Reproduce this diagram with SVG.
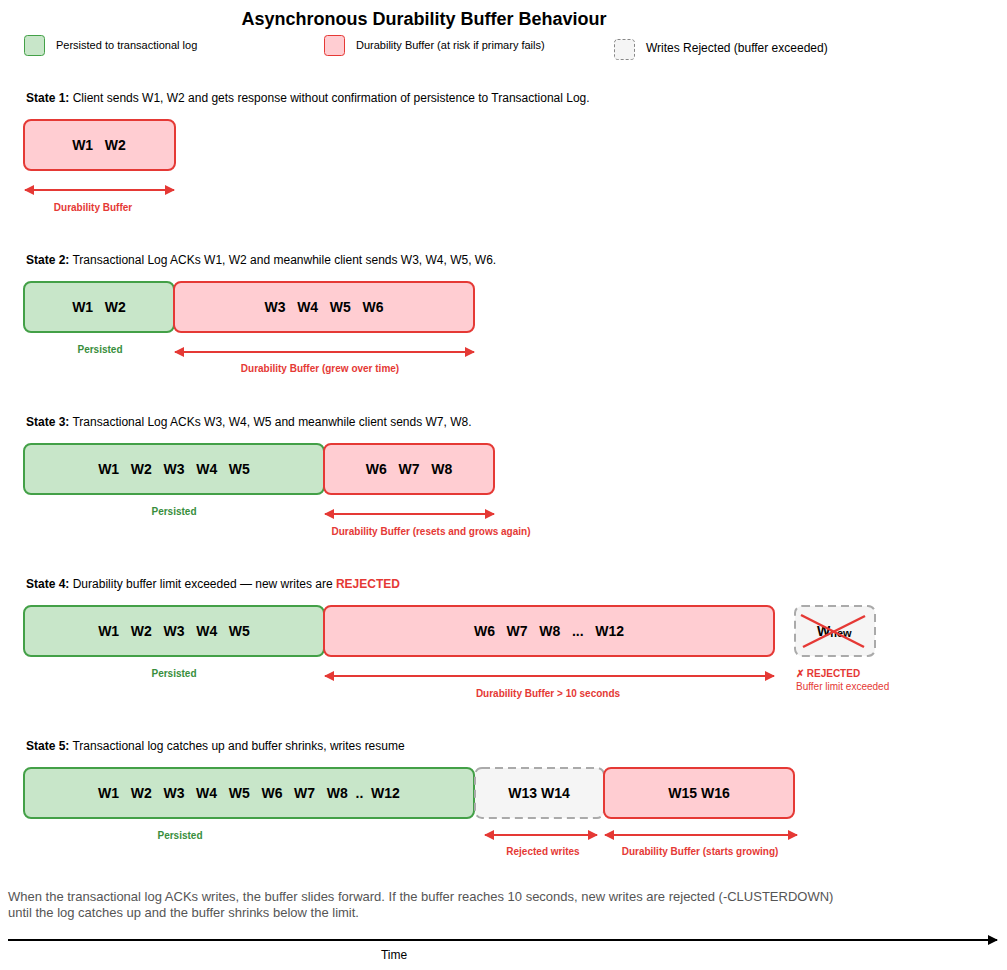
<svg xmlns="http://www.w3.org/2000/svg" width="1007" height="970" viewBox="0 0 1007 970">
<style>
text{font-family:"Liberation Sans",Arial,sans-serif;}
.title{font-size:18px;font-weight:bold;fill:#000;}
.leg{font-size:11px;fill:#000;}
.st{font-size:12px;fill:#000;}
.bold{font-weight:bold;}
.w{font-size:14px;font-weight:bold;fill:#000;white-space:pre;}
.ok{fill:#c8e6c9;stroke:#43a047;stroke-width:2;}
.buf{fill:#ffcdd2;stroke:#e53935;stroke-width:2;}
.rej{fill:#f5f5f5;stroke:#aaaaaa;stroke-width:2;stroke-dasharray:8 5;}
.lg{font-size:10px;font-weight:bold;fill:#388e3c;}
.lr{font-size:10px;font-weight:bold;fill:#e53935;}
.lrn{font-size:10px;fill:#e53935;}
.arr{stroke:#e53935;stroke-width:2;fill:none;marker-start:url(#ah);marker-end:url(#ah);}
.note{font-size:13px;fill:#555;}
</style>
<defs>
<marker id="ah" viewBox="0 0 10 10" refX="9" refY="5" markerWidth="6" markerHeight="5" markerUnits="strokeWidth" orient="auto-start-reverse">
<path d="M0,0 L10,5 L0,10 z" fill="#e53935"/>
</marker>
<marker id="ak" viewBox="0 0 10 10" refX="9" refY="5" markerWidth="5" markerHeight="5" markerUnits="strokeWidth" orient="auto">
<path d="M0,0 L10,5 L0,10 z" fill="#000"/>
</marker>
</defs>
<rect width="1007" height="970" fill="#fff"/>
<text class="title" x="424" y="25" text-anchor="middle">Asynchronous Durability Buffer Behaviour</text>

<g id="legend">
<rect x="24.5" y="35.5" width="20" height="20" rx="3" fill="#c8e6c9" stroke="#43a047" stroke-width="1"/>
<text class="leg" x="56" y="49">Persisted to transactional log</text>
<rect x="324.5" y="35.5" width="20" height="20" rx="3" fill="#ffcdd2" stroke="#e53935" stroke-width="1"/>
<text class="leg" x="356" y="49">Durability Buffer (at risk if primary fails)</text>
<rect x="614.5" y="39.5" width="20" height="20" rx="3" fill="#f5f5f5" stroke="#888" stroke-width="1" stroke-dasharray="3 2"/>
<text class="st" x="646" y="52">Writes Rejected (buffer exceeded)</text>
</g>

<g id="state1">
<text class="st" x="26" y="102"><tspan class="bold">State 1:</tspan> Client sends W1, W2 and gets response without confirmation of persistence to Transactional Log.</text>
<rect class="buf" x="24" y="120" width="151" height="50" rx="7"/>
<text class="w" x="99" y="150" text-anchor="middle">W1   W2</text>
<text class="lr" x="93" y="211" text-anchor="middle">Durability Buffer</text>
</g>

<g id="state2">
<text class="st" x="26" y="264"><tspan class="bold">State 2:</tspan> Transactional Log ACKs W1, W2 and meanwhile client sends W3, W4, W5, W6.</text>
<rect class="ok" x="24" y="282" width="150" height="50" rx="7"/>
<text class="w" x="99" y="312" text-anchor="middle">W1   W2</text>
<rect class="buf" x="174" y="282" width="300" height="50" rx="7"/>
<text class="w" x="324" y="312" text-anchor="middle">W3   W4   W5   W6</text>
<text class="lg" x="100" y="353" text-anchor="middle">Persisted</text>
<text class="lr" x="320" y="372" text-anchor="middle">Durability Buffer (grew over time)</text>
</g>

<g id="state3">
<text class="st" x="26" y="426"><tspan class="bold">State 3:</tspan> Transactional Log ACKs W3, W4, W5 and meanwhile client sends W7, W8.</text>
<rect class="ok" x="24" y="444" width="300" height="50" rx="7"/>
<text class="w" x="174" y="474" text-anchor="middle">W1   W2   W3   W4   W5</text>
<rect class="buf" x="324" y="444" width="170" height="50" rx="7"/>
<text class="w" x="409" y="474" text-anchor="middle">W6   W7   W8</text>
<text class="lg" x="174" y="515" text-anchor="middle">Persisted</text>
<text class="lr" x="431" y="535" text-anchor="middle">Durability Buffer (resets and grows again)</text>
</g>

<g id="state4">
<text class="st" x="26" y="588"><tspan class="bold">State 4:</tspan> Durability buffer limit exceeded — new writes are <tspan class="bold" fill="#e53935">REJECTED</tspan></text>
<rect class="ok" x="24" y="606" width="300" height="50" rx="7"/>
<text class="w" x="174" y="636" text-anchor="middle">W1   W2   W3   W4   W5</text>
<rect class="buf" x="324" y="606" width="450" height="50" rx="7"/>
<text class="w" x="549" y="636" text-anchor="middle">W6   W7   W8   ...   W12</text>
<text class="lg" x="174" y="677" text-anchor="middle">Persisted</text>
<text class="lr" x="548" y="697" text-anchor="middle">Durability Buffer &gt; 10 seconds</text>
</g>

<g id="rejected-write">
<rect class="rej" x="795" y="606" width="80" height="50" rx="7"/>
<text x="817" y="636" font-size="14" font-weight="bold" fill="#000">W<tspan font-size="11" dy="1">new</tspan></text>
<line x1="801" y1="615" x2="864" y2="647" stroke="#e53935" stroke-width="2.5"/>
<line x1="803" y1="647" x2="865" y2="616" stroke="#e53935" stroke-width="2.5"/>
<text class="lr" x="796" y="677">✗ REJECTED</text>
<text class="lrn" x="796" y="690">Buffer limit exceeded</text>
</g>

<g id="state5">
<text class="st" x="26" y="750"><tspan class="bold">State 5:</tspan> Transactional log catches up and buffer shrinks, writes resume</text>
<rect class="ok" x="24" y="768" width="450" height="50" rx="7"/>
<text class="w" x="249" y="798" text-anchor="middle">W1   W2   W3   W4   W5   W6   W7   W8  ..  W12</text>
<rect class="rej" x="475" y="768" width="129" height="50" rx="7"/>
<text class="w" x="539" y="798" text-anchor="middle">W13 W14</text>
<rect class="buf" x="604" y="768" width="190" height="50" rx="7"/>
<text class="w" x="699" y="798" text-anchor="middle">W15 W16</text>
<text class="lg" x="180" y="839" text-anchor="middle">Persisted</text>
<text class="lr" x="543" y="855" text-anchor="middle">Rejected writes</text>
<text class="lr" x="700" y="855" text-anchor="middle">Durability Buffer (starts growing)</text>
</g>

<g id="connectors">
<line class="arr" x1="25" y1="190" x2="174" y2="190"/>
<line class="arr" x1="175" y1="352" x2="474" y2="352"/>
<line class="arr" x1="325" y1="514" x2="494" y2="514"/>
<line class="arr" x1="325" y1="676" x2="774" y2="676"/>
<line class="arr" x1="485" y1="835" x2="597" y2="835"/>
<line class="arr" x1="605" y1="835" x2="797" y2="835"/>
<line x1="8" y1="940" x2="997" y2="940" stroke="#000" stroke-width="2" marker-end="url(#ak)"/>
</g>

<g id="footer">
<text class="note" x="8" y="901">When the transactional log ACKs writes, the buffer slides forward. If the buffer reaches 10 seconds, new writes are rejected (-CLUSTERDOWN)</text>
<text class="note" x="8" y="917">until the log catches up and the buffer shrinks below the limit.</text>
<text class="st" x="394" y="959" text-anchor="middle">Time</text>
</g>
</svg>
